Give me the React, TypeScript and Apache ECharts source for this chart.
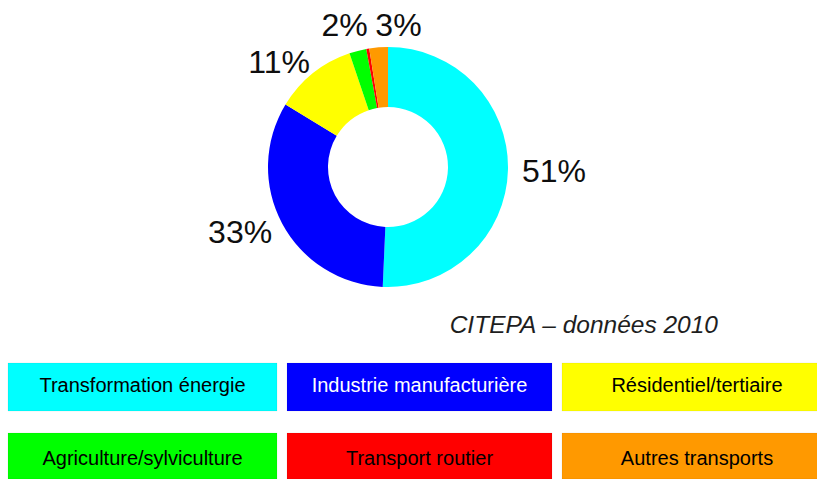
import React, { useEffect, useRef } from "react";
import * as echarts from "echarts";

const categories = [
  "Transformation énergie",
  "Industrie manufacturière",
  "Résidentiel/tertiaire",
  "Agriculture/sylviculture",
  "Transport routier",
  "Autres transports",
];
const shares = [50.7, 33.0, 11.1, 2.3, 0.4, 2.5];
const showLabel = [true, true, true, true, false, true];
const colors = ["#00FFFF", "#0000FF", "#FFFF00", "#00FF00", "#FF0000", "#FF9900"];
const legendTextColors = ["#000000", "#FFFFFF", "#000000", "#000000", "#000000", "#000000"];
const caption = "CITEPA – données 2010";

// label nudges (styling) to mimic the original placement
const labelNudge: [number, number][] = [
  [0, 1],
  [4, 9],
  [11, -11],
  [24, -26],
  [0, 0],
  [57, -22],
];

const colX = [8, 287, 562];
const colW = [269, 265, 270];
const rowY = [363, 433];
const rowH = [48, 46];

export default function App() {
  const ref = useRef<HTMLDivElement>(null);
  useEffect(() => {
    if (!ref.current) return;
    const chart = echarts.init(ref.current, undefined, { renderer: "svg" });

    const legendGraphics: any[] = [];
    categories.forEach((name, i) => {
      const row = Math.floor(i / 3);
      const col = i % 3;
      legendGraphics.push({
        type: "rect",
        shape: { x: colX[col], y: rowY[row], width: colW[col], height: rowH[row] },
        style: { fill: colors[i], stroke: "rgba(0,0,0,0.06)", lineWidth: 1 },
        silent: true,
      });
      legendGraphics.push({
        type: "text",
        x: colX[col] + colW[col] / 2,
        y: row === 0 ? 385 : 458,
        style: {
          text: name,
          fill: legendTextColors[i],
          font: '20px "Liberation Sans", Arial, sans-serif',
          align: "center",
          verticalAlign: "middle",
        },
        silent: true,
      });
    });
    legendGraphics.push({
      type: "text",
      x: 718,
      y: 324,
      style: {
        text: caption,
        fill: "#1e1e1e",
        font: 'italic 24.5px "Liberation Sans", Arial, sans-serif',
        align: "right",
        verticalAlign: "middle",
      },
      silent: true,
    });

    chart.setOption({
      animation: false,
      backgroundColor: "#ffffff",
      graphic: legendGraphics,
      series: [
        {
          type: "pie",
          center: [388, 167],
          radius: [60, 120],
          startAngle: 90,
          clockwise: true,
          avoidLabelOverlap: false,
          silent: true,
          itemStyle: { borderWidth: 0 },
          label: {
            show: true,
            position: "outside",
            distanceToLabelLine: 14,
            fontFamily: '"Liberation Sans", Arial, sans-serif',
            fontSize: 32,
            color: "#0e0e0e",
            formatter: (p: any) => Math.round(p.value) + "%",
          },
          labelLine: { show: false, length: 0, length2: 0 },
          labelLayout: (p: any) => {
            const n = labelNudge[p.dataIndex] || [0, 0];
            return { dx: n[0], dy: n[1] };
          },
          data: categories.map((name, i) => ({
            name,
            value: shares[i],
            itemStyle: { color: colors[i] },
            label: { show: showLabel[i] },
          })),
        },
      ],
    });
    return () => chart.dispose();
  }, []);
  return (
    <div
      ref={ref}
      style={{ position: "absolute", left: 0, top: 0, width: 817, height: 479 }}
    />
  );
}
